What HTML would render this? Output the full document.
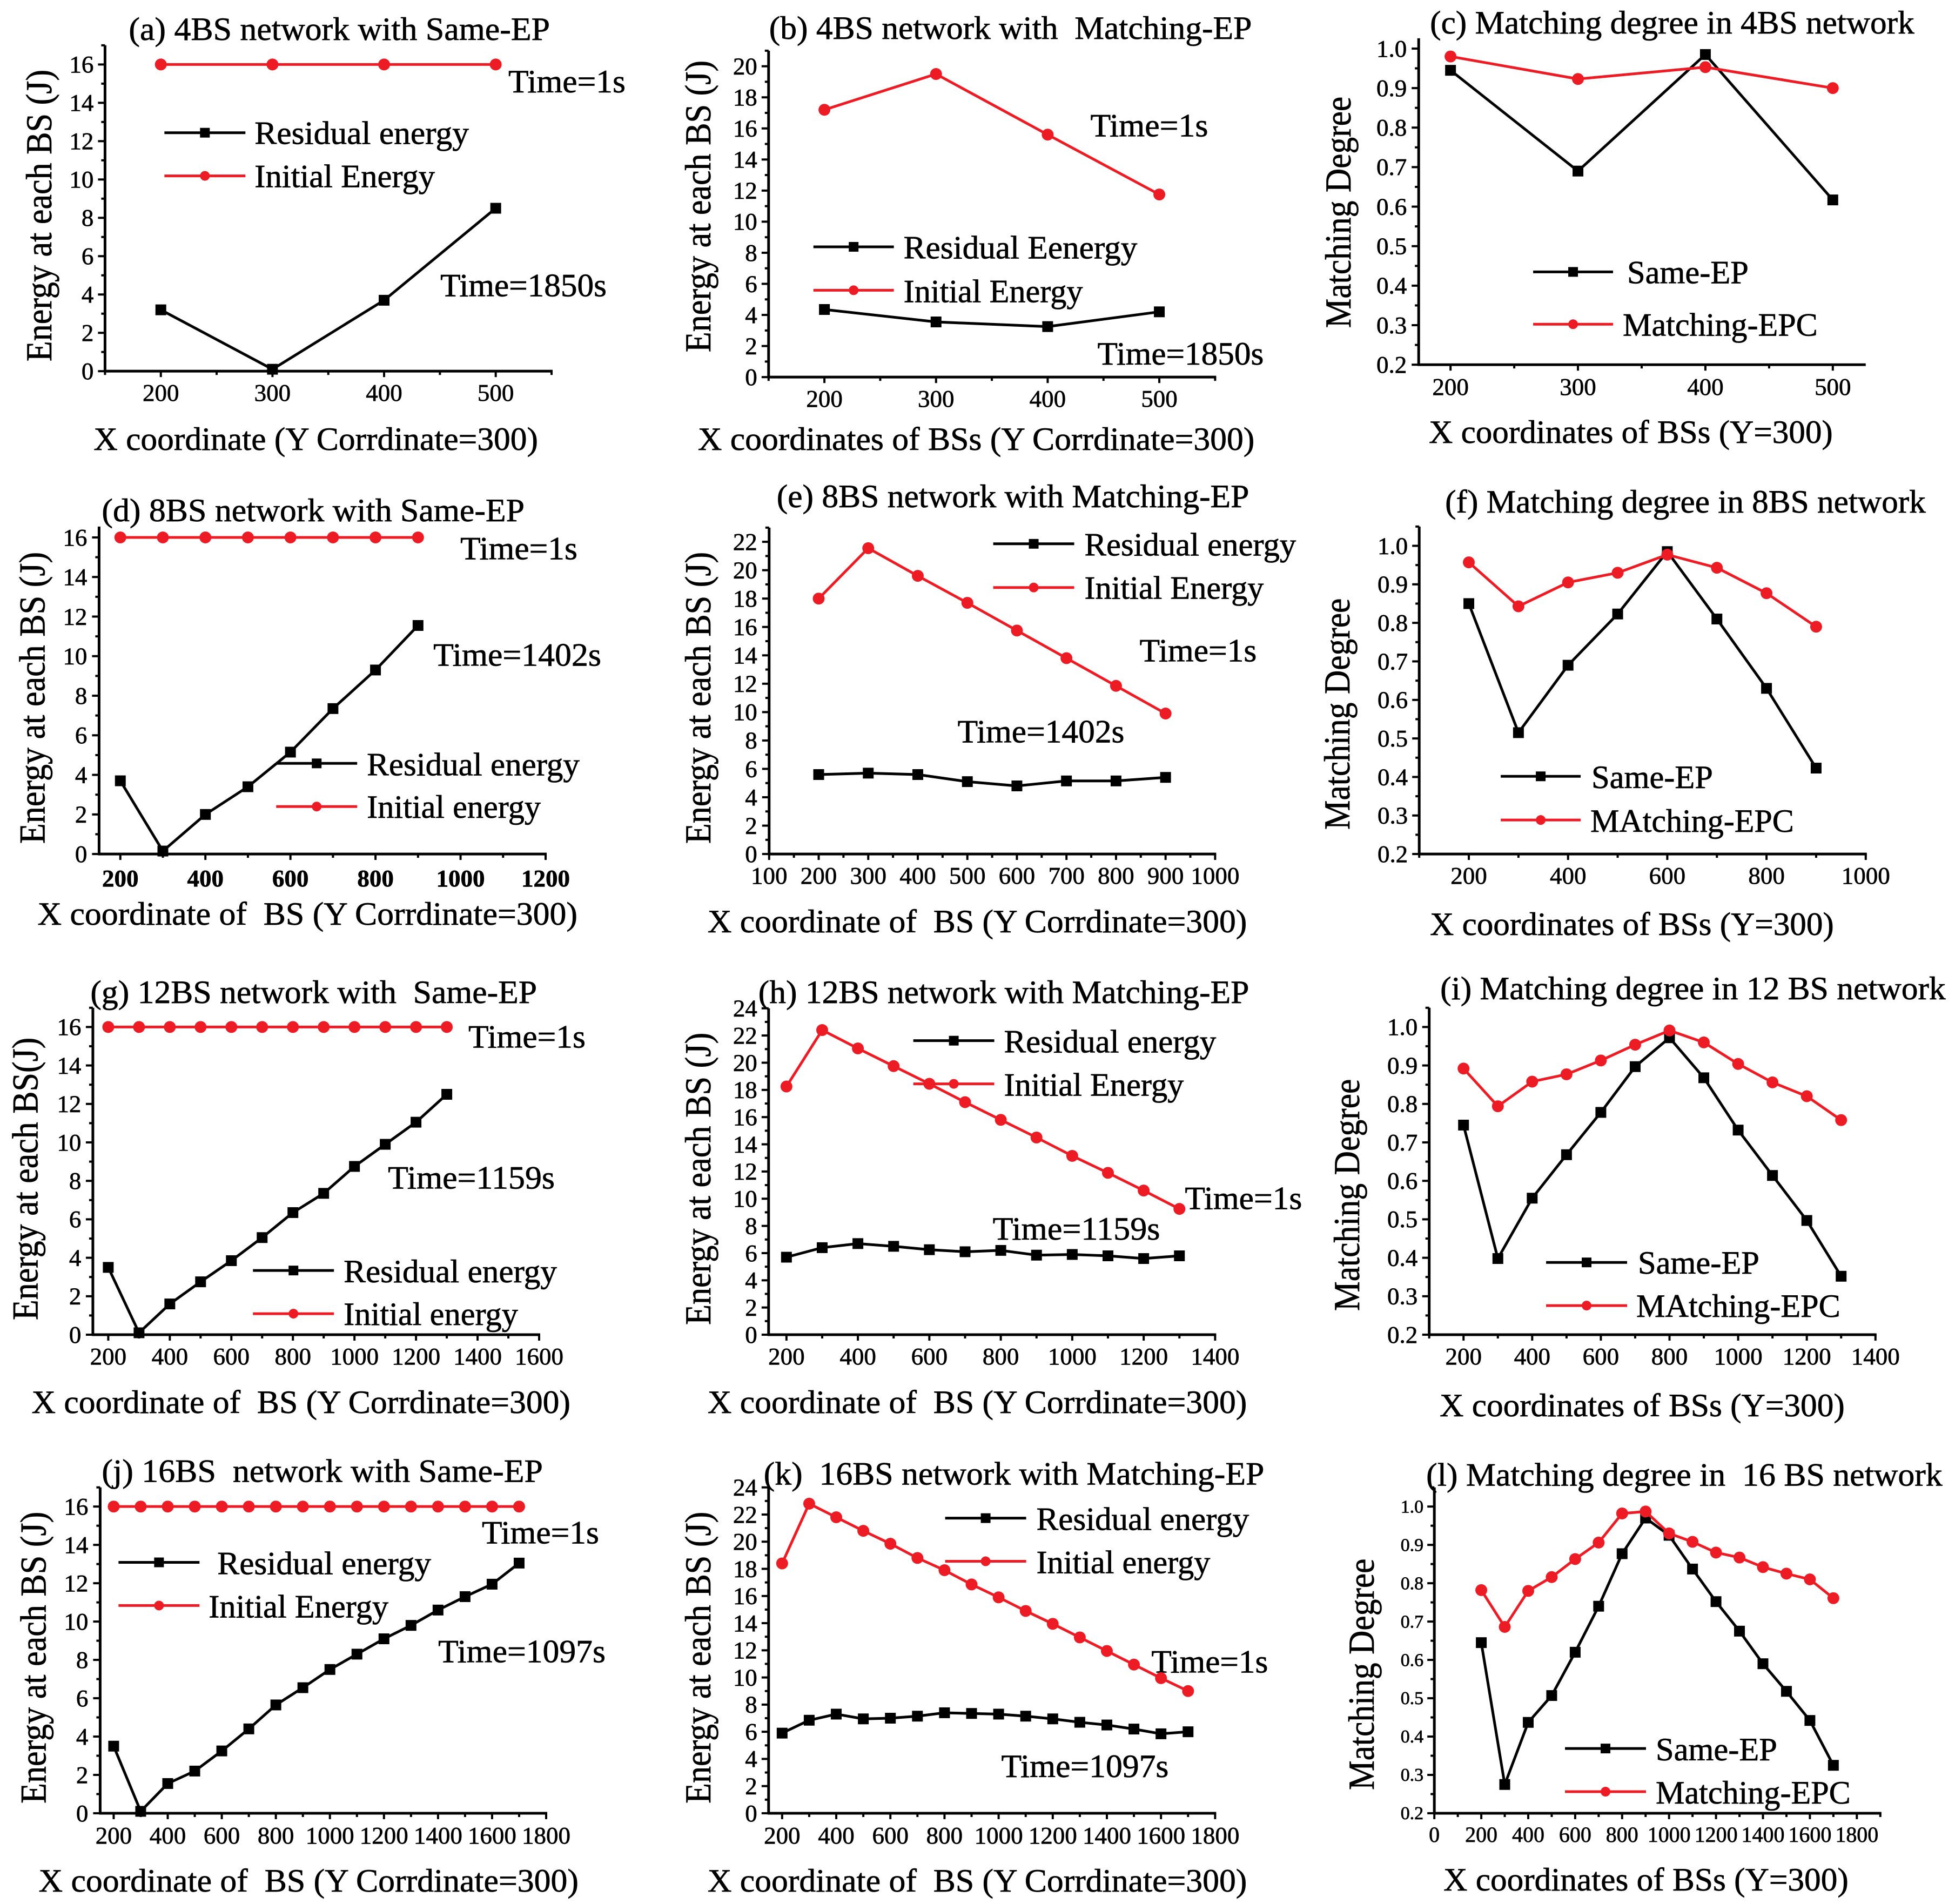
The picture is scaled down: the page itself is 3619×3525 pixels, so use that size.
<!DOCTYPE html>
<html lang="en">
<head>
<meta charset="utf-8">
<title>Energy and matching degree charts</title>
<style>
html,body{margin:0;padding:0;background:#fff;}
svg{display:block;}
text{font-family:"Liberation Serif",serif;fill:#000;white-space:pre;stroke:#000;stroke-width:0.7px;}
.t{font-size:60px;}
.yt{font-size:68px;}
</style>
</head>
<body>
<svg id="figure" xmlns="http://www.w3.org/2000/svg" width="3619" height="3525" viewBox="0 0 3619 3525">
<rect x="0" y="0" width="3619" height="3525" fill="#fff"/>
<g transform="translate(-3.5,-1) scale(0.9995,0.9988)">

<g id="panel-a">
<text class="t" x="242" y="75" textLength="780" lengthAdjust="spacingAndGlyphs">(a) 4BS network with Same-EP</text>
<text class="t" x="177" y="835" textLength="823" lengthAdjust="spacingAndGlyphs">X coordinate (Y Corrdinate=300)</text>
<text class="yt" transform="translate(98.5,671) rotate(-90)" textLength="541" lengthAdjust="spacingAndGlyphs">Energy at each BS (J)</text>
<line x1="308" x2="458" y1="247" y2="247" stroke="#000" stroke-width="5"/>
<rect x="374" y="238" width="18" height="18" fill="#000"/>
<text class="t" x="475" y="268" textLength="397" lengthAdjust="spacingAndGlyphs">Residual energy</text>
<line x1="308" x2="458" y1="327" y2="327" stroke="#ed1c24" stroke-width="5"/>
<circle cx="383" cy="327" r="9" fill="#ed1c24"/>
<text class="t" x="475" y="348" textLength="334" lengthAdjust="spacingAndGlyphs">Initial Energy</text>
<text class="t" x="945" y="172" textLength="217" lengthAdjust="spacingAndGlyphs">Time=1s</text>
<text class="t" x="819" y="550" textLength="308" lengthAdjust="spacingAndGlyphs">Time=1850s</text>
</g>

<g id="panel-b">
<text class="t" x="1428" y="73" textLength="894" lengthAdjust="spacingAndGlyphs">(b) 4BS network with  Matching-EP</text>
<text class="t" x="1296" y="835" textLength="1031" lengthAdjust="spacingAndGlyphs">X coordinates of BSs (Y Corrdinate=300)</text>
<text class="yt" transform="translate(1319,654) rotate(-90)" textLength="541" lengthAdjust="spacingAndGlyphs">Energy at each BS (J)</text>
<line x1="1510" x2="1659" y1="458.5" y2="458.5" stroke="#000" stroke-width="5"/>
<rect x="1575.5" y="449.5" width="18" height="18" fill="#000"/>
<text class="t" x="1677" y="480" textLength="433" lengthAdjust="spacingAndGlyphs">Residual Eenergy</text>
<line x1="1510" x2="1659" y1="539" y2="539" stroke="#ed1c24" stroke-width="5"/>
<circle cx="1584.5" cy="539" r="9" fill="#ed1c24"/>
<text class="t" x="1677" y="561" textLength="332" lengthAdjust="spacingAndGlyphs">Initial Energy</text>
<text class="t" x="2023" y="254" textLength="218" lengthAdjust="spacingAndGlyphs">Time=1s</text>
<text class="t" x="2036" y="677" textLength="308" lengthAdjust="spacingAndGlyphs">Time=1850s</text>
</g>

<g id="panel-c">
<text class="t" x="2652" y="63" textLength="897" lengthAdjust="spacingAndGlyphs">(c) Matching degree in 4BS network</text>
<text class="t" x="2650" y="822" textLength="748" lengthAdjust="spacingAndGlyphs">X coordinates of BSs (Y=300)</text>
<text class="yt" transform="translate(2505,609) rotate(-90)" textLength="429" lengthAdjust="spacingAndGlyphs">Matching Degree</text>
<line x1="2843" x2="2991" y1="505" y2="505" stroke="#000" stroke-width="5"/>
<rect x="2908" y="496" width="18" height="18" fill="#000"/>
<text class="t" x="3017" y="526" textLength="225" lengthAdjust="spacingAndGlyphs">Same-EP</text>
<line x1="2843" x2="2991" y1="602" y2="602" stroke="#ed1c24" stroke-width="5"/>
<circle cx="2917" cy="602" r="9" fill="#ed1c24"/>
<text class="t" x="3009" y="623" textLength="361" lengthAdjust="spacingAndGlyphs">Matching-EPC</text>
</g>

<g id="panel-d">
<text class="t" x="192" y="967" textLength="783" lengthAdjust="spacingAndGlyphs">(d) 8BS network with Same-EP</text>
<text class="t" x="73" y="1715" textLength="1000" lengthAdjust="spacingAndGlyphs">X coordinate of  BS (Y Corrdinate=300)</text>
<text class="yt" transform="translate(86,1565) rotate(-90)" textLength="541" lengthAdjust="spacingAndGlyphs">Energy at each BS (J)</text>
<line x1="515" x2="665" y1="1416" y2="1416" stroke="#000" stroke-width="5"/>
<rect x="581" y="1407" width="18" height="18" fill="#000"/>
<text class="t" x="683" y="1438" textLength="394" lengthAdjust="spacingAndGlyphs">Residual energy</text>
<line x1="515" x2="665" y1="1496" y2="1496" stroke="#ed1c24" stroke-width="5"/>
<circle cx="590" cy="1496" r="9" fill="#ed1c24"/>
<text class="t" x="683" y="1517" textLength="322" lengthAdjust="spacingAndGlyphs">Initial energy</text>
<text class="t" x="856" y="1038" textLength="217" lengthAdjust="spacingAndGlyphs">Time=1s</text>
<text class="t" x="806" y="1235" textLength="311" lengthAdjust="spacingAndGlyphs">Time=1402s</text>
</g>

<g id="panel-e">
<text class="t" x="1442" y="941" textLength="875" lengthAdjust="spacingAndGlyphs">(e) 8BS network with Matching-EP</text>
<text class="t" x="1314" y="1729" textLength="999" lengthAdjust="spacingAndGlyphs">X coordinate of  BS (Y Corrdinate=300)</text>
<text class="yt" transform="translate(1319,1565) rotate(-90)" textLength="541" lengthAdjust="spacingAndGlyphs">Energy at each BS (J)</text>
<line x1="1843" x2="1993" y1="1009" y2="1009" stroke="#000" stroke-width="5"/>
<rect x="1909" y="1000" width="18" height="18" fill="#000"/>
<text class="t" x="2012" y="1031" textLength="392" lengthAdjust="spacingAndGlyphs">Residual energy</text>
<line x1="1843" x2="1993" y1="1090" y2="1090" stroke="#ed1c24" stroke-width="5"/>
<circle cx="1918" cy="1090" r="9" fill="#ed1c24"/>
<text class="t" x="2012" y="1111" textLength="332" lengthAdjust="spacingAndGlyphs">Initial Energy</text>
<text class="t" x="2114" y="1227" textLength="217" lengthAdjust="spacingAndGlyphs">Time=1s</text>
<text class="t" x="1777" y="1377" textLength="309" lengthAdjust="spacingAndGlyphs">Time=1402s</text>
</g>

<g id="panel-f">
<text class="t" x="2680" y="951" textLength="890" lengthAdjust="spacingAndGlyphs">(f) Matching degree in 8BS network</text>
<text class="t" x="2652" y="1734" textLength="748" lengthAdjust="spacingAndGlyphs">X coordinates of BSs (Y=300)</text>
<text class="yt" transform="translate(2503,1539) rotate(-90)" textLength="429" lengthAdjust="spacingAndGlyphs">Matching Degree</text>
<line x1="2783" x2="2931" y1="1440" y2="1440" stroke="#000" stroke-width="5"/>
<rect x="2848" y="1431" width="18" height="18" fill="#000"/>
<text class="t" x="2951" y="1462" textLength="225" lengthAdjust="spacingAndGlyphs">Same-EP</text>
<line x1="2783" x2="2931" y1="1521" y2="1521" stroke="#ed1c24" stroke-width="5"/>
<circle cx="2857" cy="1521" r="9" fill="#ed1c24"/>
<text class="t" x="2949" y="1543" textLength="377" lengthAdjust="spacingAndGlyphs">MAtching-EPC</text>
</g>

<g id="panel-g">
<text class="t" x="171" y="1860" textLength="827" lengthAdjust="spacingAndGlyphs">(g) 12BS network with  Same-EP</text>
<text class="t" x="62" y="2620" textLength="998" lengthAdjust="spacingAndGlyphs">X coordinate of  BS (Y Corrdinate=300)</text>
<text class="yt" transform="translate(73,2448) rotate(-90)" textLength="524" lengthAdjust="spacingAndGlyphs">Energy at each BS(J)</text>
<line x1="472" x2="622" y1="2356" y2="2356" stroke="#000" stroke-width="5"/>
<rect x="538" y="2347" width="18" height="18" fill="#000"/>
<text class="t" x="640" y="2378" textLength="395" lengthAdjust="spacingAndGlyphs">Residual energy</text>
<line x1="472" x2="622" y1="2436" y2="2436" stroke="#ed1c24" stroke-width="5"/>
<circle cx="547" cy="2436" r="9" fill="#ed1c24"/>
<text class="t" x="640" y="2457" textLength="323" lengthAdjust="spacingAndGlyphs">Initial energy</text>
<text class="t" x="871" y="1943" textLength="217" lengthAdjust="spacingAndGlyphs">Time=1s</text>
<text class="t" x="722" y="2204" textLength="309" lengthAdjust="spacingAndGlyphs">Time=1159s</text>
</g>

<g id="panel-h">
<text class="t" x="1408" y="1860" textLength="909" lengthAdjust="spacingAndGlyphs">(h) 12BS network with Matching-EP</text>
<text class="t" x="1314" y="2620" textLength="999" lengthAdjust="spacingAndGlyphs">X coordinate of  BS (Y Corrdinate=300)</text>
<text class="yt" transform="translate(1319,2457) rotate(-90)" textLength="542" lengthAdjust="spacingAndGlyphs">Energy at each BS (J)</text>
<line x1="1695" x2="1845" y1="1930" y2="1930" stroke="#000" stroke-width="5"/>
<rect x="1761" y="1921" width="18" height="18" fill="#000"/>
<text class="t" x="1863" y="1952" textLength="393" lengthAdjust="spacingAndGlyphs">Residual energy</text>
<line x1="1695" x2="1845" y1="2010" y2="2010" stroke="#ed1c24" stroke-width="5"/>
<circle cx="1770" cy="2010" r="9" fill="#ed1c24"/>
<text class="t" x="1863" y="2032" textLength="333" lengthAdjust="spacingAndGlyphs">Initial Energy</text>
<text class="t" x="2198" y="2242" textLength="217" lengthAdjust="spacingAndGlyphs">Time=1s</text>
<text class="t" x="1842" y="2299" textLength="310" lengthAdjust="spacingAndGlyphs">Time=1159s</text>
</g>

<g id="panel-i">
<text class="t" x="2671" y="1853" textLength="936" lengthAdjust="spacingAndGlyphs">(i) Matching degree in 12 BS network</text>
<text class="t" x="2670" y="2626" textLength="750" lengthAdjust="spacingAndGlyphs">X coordinates of BSs (Y=300)</text>
<text class="yt" transform="translate(2521,2431) rotate(-90)" textLength="430" lengthAdjust="spacingAndGlyphs">Matching Degree</text>
<line x1="2867" x2="3017" y1="2341" y2="2341" stroke="#000" stroke-width="5"/>
<rect x="2933" y="2332" width="18" height="18" fill="#000"/>
<text class="t" x="3037" y="2362" textLength="225" lengthAdjust="spacingAndGlyphs">Same-EP</text>
<line x1="2867" x2="3017" y1="2421" y2="2421" stroke="#ed1c24" stroke-width="5"/>
<circle cx="2942" cy="2421" r="9" fill="#ed1c24"/>
<text class="t" x="3034" y="2442" textLength="378" lengthAdjust="spacingAndGlyphs">MAtching-EPC</text>
</g>

<g id="panel-j">
<text class="t" x="192" y="2748" textLength="817" lengthAdjust="spacingAndGlyphs">(j) 16BS  network with Same-EP</text>
<text class="t" x="75" y="3507" textLength="1000" lengthAdjust="spacingAndGlyphs">X coordinate of  BS (Y Corrdinate=300)</text>
<text class="yt" transform="translate(88,3344) rotate(-90)" textLength="541" lengthAdjust="spacingAndGlyphs">Energy at each BS (J)</text>
<line x1="223" x2="373" y1="2897" y2="2897" stroke="#000" stroke-width="5"/>
<rect x="289" y="2888" width="18" height="18" fill="#000"/>
<text class="t" x="406" y="2919" textLength="396" lengthAdjust="spacingAndGlyphs">Residual energy</text>
<line x1="223" x2="373" y1="2977" y2="2977" stroke="#ed1c24" stroke-width="5"/>
<circle cx="298" cy="2977" r="9" fill="#ed1c24"/>
<text class="t" x="390" y="2999" textLength="333" lengthAdjust="spacingAndGlyphs">Initial Energy</text>
<text class="t" x="896" y="2862" textLength="217" lengthAdjust="spacingAndGlyphs">Time=1s</text>
<text class="t" x="815" y="3082" textLength="310" lengthAdjust="spacingAndGlyphs">Time=1097s</text>
</g>

<g id="panel-k">
<text class="t" x="1418" y="2753" textLength="927" lengthAdjust="spacingAndGlyphs">(k)  16BS network with Matching-EP</text>
<text class="t" x="1314" y="3507" textLength="999" lengthAdjust="spacingAndGlyphs">X coordinate of  BS (Y Corrdinate=300)</text>
<text class="yt" transform="translate(1319,3344) rotate(-90)" textLength="541" lengthAdjust="spacingAndGlyphs">Energy at each BS (J)</text>
<line x1="1754" x2="1904" y1="2815" y2="2815" stroke="#000" stroke-width="5"/>
<rect x="1820" y="2806" width="18" height="18" fill="#000"/>
<text class="t" x="1923" y="2837" textLength="394" lengthAdjust="spacingAndGlyphs">Residual energy</text>
<line x1="1754" x2="1904" y1="2895" y2="2895" stroke="#ed1c24" stroke-width="5"/>
<circle cx="1829" cy="2895" r="9" fill="#ed1c24"/>
<text class="t" x="1923" y="2917" textLength="322" lengthAdjust="spacingAndGlyphs">Initial energy</text>
<text class="t" x="2136" y="3101" textLength="216" lengthAdjust="spacingAndGlyphs">Time=1s</text>
<text class="t" x="1858" y="3295" textLength="310" lengthAdjust="spacingAndGlyphs">Time=1097s</text>
</g>

<g id="panel-l">
<text class="t" x="2645" y="2755" textLength="956" lengthAdjust="spacingAndGlyphs">(l) Matching degree in  16 BS network</text>
<text class="t" x="2677" y="3505" textLength="750" lengthAdjust="spacingAndGlyphs">X coordinates of BSs (Y=300)</text>
<text class="yt" transform="translate(2548,3319) rotate(-90)" textLength="429" lengthAdjust="spacingAndGlyphs">Matching Degree</text>
<line x1="2902" x2="3052" y1="3242" y2="3242" stroke="#000" stroke-width="5"/>
<rect x="2968" y="3233" width="18" height="18" fill="#000"/>
<text class="t" x="3070" y="3264" textLength="225" lengthAdjust="spacingAndGlyphs">Same-EP</text>
<line x1="2902" x2="3052" y1="3322" y2="3322" stroke="#ed1c24" stroke-width="5"/>
<circle cx="2977" cy="3322" r="9" fill="#ed1c24"/>
<text class="t" x="3070" y="3344" textLength="361" lengthAdjust="spacingAndGlyphs">Matching-EPC</text>
</g>
</g>
</svg>

<script>
// Categories (BS x coordinates)
const bsX4 = [200, 300, 400, 500];
const bsX8 = [200, 300, 400, 500, 600, 700, 800, 900];
const bsX12 = [200, 300, 400, 500, 600, 700, 800, 900, 1000, 1100, 1200, 1300];
const bsX16 = [200, 300, 400, 500, 600, 700, 800, 900, 1000, 1100, 1200, 1300, 1400, 1500, 1600, 1700];

// Series values
const residualA = [3.2, 0.1, 3.7, 8.5];
const initialA = [16, 16, 16, 16];
const residualB = [4.35, 3.55, 3.25, 4.2];
const initialB = [17.2, 19.5, 15.6, 11.75];
const sameC = [0.945, 0.69, 0.985, 0.617];
const matchingC = [0.98, 0.923, 0.953, 0.90];

const residualD = [3.7, 0.15, 2.0, 3.4, 5.15, 7.35, 9.3, 11.55];
const initialD = [16, 16, 16, 16, 16, 16, 16, 16];
const residualE = [5.6, 5.7, 5.6, 5.1, 4.8, 5.15, 5.15, 5.4];
const initialE = [18, 21.55, 19.6, 17.7, 15.75, 13.8, 11.85, 9.9];
const sameF = [0.85, 0.515, 0.69, 0.823, 0.985, 0.81, 0.63, 0.423];
const matchingF = [0.957, 0.843, 0.905, 0.93, 0.977, 0.943, 0.877, 0.79];

const residualG = [3.5, 0.1, 1.6, 2.75, 3.85, 5.05, 6.35, 7.35, 8.75, 9.9, 11.05, 12.5];
const initialG = [16, 16, 16, 16, 16, 16, 16, 16, 16, 16, 16, 16];
const residualH = [5.7, 6.4, 6.7, 6.5, 6.25, 6.1, 6.2, 5.85, 5.9, 5.8, 5.6, 5.8];
const initialH = [18.25, 22.4, 21.05, 19.75, 18.45, 17.1, 15.8, 14.5, 13.15, 11.9, 10.6, 9.25];
const sameI = [0.745, 0.398, 0.555, 0.668, 0.778, 0.897, 0.972, 0.868, 0.732, 0.614, 0.497, 0.352];
const matchingI = [0.892, 0.794, 0.858, 0.877, 0.913, 0.954, 0.991, 0.96, 0.904, 0.856, 0.82, 0.758];

const residualJ = [3.5, 0.1, 1.55, 2.2, 3.25, 4.4, 5.65, 6.55, 7.5, 8.3, 9.1, 9.8, 10.6, 11.3, 11.95, 13.05];
const initialJ = [16, 16, 16, 16, 16, 16, 16, 16, 16, 16, 16, 16, 16, 16, 16, 16];
const residualK = [5.9, 6.85, 7.3, 6.95, 7.0, 7.15, 7.4, 7.35, 7.3, 7.15, 6.95, 6.7, 6.5, 6.2, 5.85, 6.0];
const initialK = [18.4, 22.8, 21.8, 20.8, 19.85, 18.8, 17.9, 16.85, 15.9, 14.9, 13.95, 12.95, 11.95, 10.95, 9.95, 9.0];
const sameL = [0.645, 0.275, 0.437, 0.507, 0.62, 0.74, 0.877, 0.97, 0.925, 0.837, 0.752, 0.675, 0.59, 0.518, 0.442, 0.325];
const matchingL = [0.782, 0.686, 0.78, 0.816, 0.863, 0.906, 0.982, 0.987, 0.93, 0.908, 0.88, 0.867, 0.842, 0.825, 0.81, 0.761];

// Tick labels
const xTicks4 = [200, 300, 400, 500];
const xTicks1000 = [200, 400, 600, 800, 1000];
const xTicks1000Every100 = [100, 200, 300, 400, 500, 600, 700, 800, 900, 1000];
const xTicks1200 = [200, 400, 600, 800, 1000, 1200];
const xTicks1400 = [200, 400, 600, 800, 1000, 1200, 1400];
const xTicks1600 = [200, 400, 600, 800, 1000, 1200, 1400, 1600];
const xTicks1800 = [200, 400, 600, 800, 1000, 1200, 1400, 1600, 1800];
const xTicks1800Zero = [0, 200, 400, 600, 800, 1000, 1200, 1400, 1600, 1800];
const yTicks16 = [0, 2, 4, 6, 8, 10, 12, 14, 16];
const yTicks20 = [0, 2, 4, 6, 8, 10, 12, 14, 16, 18, 20];
const yTicks22 = [0, 2, 4, 6, 8, 10, 12, 14, 16, 18, 20, 22];
const yTicks24 = [0, 2, 4, 6, 8, 10, 12, 14, 16, 18, 20, 22, 24];
const yTicksMatching = [0.2, 0.3, 0.4, 0.5, 0.6, 0.7, 0.8, 0.9, 1.0];

// Layout of each panel: axis domains and where they land on the page
const panels = [
  {id:'panel-a', xs:bsX4, s1:residualA, s2:initialA, n1:'residual-energy', n2:'initial-energy', xt:xTicks4, yt:yTicks16, dec:0,
   xd:[150,550], xr:[198,1025], yd:[0,17], yr:[689,85], xb:744, yr0:177},
  {id:'panel-b', xs:bsX4, s1:residualB, s2:initialB, n1:'residual-energy', n2:'initial-energy', xt:xTicks4, yt:yTicks20, dec:0,
   xd:[150,550], xr:[1427,2254], yd:[0,21], yr:[700,95], xb:755, yr0:1406},
  {id:'panel-c', xs:bsX4, s1:sameC, s2:matchingC, n1:'same-ep', n2:'matching-epc', xt:xTicks4, yt:yTicksMatching, dec:1,
   xd:[175,525], xr:[2631,3457], yd:[0.2,1.026], yr:[677,72], xb:733, yr0:2609},
  {id:'panel-d', xs:bsX8, s1:residualD, s2:initialD, n1:'residual-energy', n2:'initial-energy', xt:xTicks1200, yt:yTicks16, dec:0,
   xd:[150,1200], xr:[187,1014], yd:[0,16.55], yr:[1584,977], xb:1644, yr0:165, bold:true},
  {id:'panel-e', xs:bsX8, s1:residualE, s2:initialE, n1:'residual-energy', n2:'initial-energy', xt:xTicks1000Every100, yt:yTicks22, dec:0,
   xd:[100,1000], xr:[1428,2254], yd:[0,23], yr:[1584,979], xb:1639, yr0:1406},
  {id:'panel-f', xs:bsX8, s1:sameF, s2:matchingF, n1:'same-ep', n2:'matching-epc', xt:xTicks1000, yt:yTicksMatching, dec:1,
   xd:[100,1000], xr:[2632,3459], yd:[0.2,1.05], yr:[1584,977], xb:1639, yr0:2611},
  {id:'panel-g', xs:bsX12, s1:residualG, s2:initialG, n1:'residual-energy', n2:'initial-energy', xt:xTicks1600, yt:yTicks16, dec:0,
   xd:[150,1600], xr:[175.5,1002], yd:[0,17], yr:[2475,1869], xb:2530, yr0:154},
  {id:'panel-h', xs:bsX12, s1:residualH, s2:initialH, n1:'residual-energy', n2:'initial-energy', xt:xTicks1400, yt:yTicks24, dec:0,
   xd:[150,1400], xr:[1427,2254], yd:[0,24], yr:[2475,1870], xb:2530, yr0:1406},
  {id:'panel-i', xs:bsX12, s1:sameI, s2:matchingI, n1:'same-ep', n2:'matching-epc', xt:xTicks1400, yt:yTicksMatching, dec:1,
   xd:[100,1400], xr:[2650.5,3477], yd:[0.2,1.05], yr:[2475,1869], xb:2530, yr0:2629},
  {id:'panel-j', xs:bsX16, s1:residualJ, s2:initialJ, n1:'residual-energy', n2:'initial-energy', xt:xTicks1800, yt:yTicks16, dec:0,
   xd:[150,1800], xr:[189,1015], yd:[0,17], yr:[3362,2758], xb:3418, yr0:167},
  {id:'panel-k', xs:bsX16, s1:residualK, s2:initialK, n1:'residual-energy', n2:'initial-energy', xt:xTicks1800, yt:yTicks24, dec:0,
   xd:[150,1800], xr:[1427,2254], yd:[0,24], yr:[3362,2758], xb:3418, yr0:1406},
  {id:'panel-l', xs:bsX16, s1:sameL, s2:matchingL, n1:'same-ep', n2:'matching-epc', xt:xTicks1800Zero, yt:yTicksMatching, dec:1,
   xd:[0,1900], xr:[2660,3486], yd:[0.2,1.05], yr:[3362,2758], xb:3415, yr0:2640, xfs:40, yfs:34}
];

const NS = 'http://www.w3.org/2000/svg';
const BLACK = '#000';
const RED = '#ed1c24';

function mk(tag, parent, attrs) {
  const el = document.createElementNS(NS, tag);
  for (const k in attrs) el.setAttribute(k, attrs[k]);
  parent.appendChild(el);
  return el;
}

function midTicks(majors, lo, hi) {
  const step = majors[1] - majors[0];
  const half = step / 2;
  const out = [];
  for (let v = majors[0] - half; v >= lo - 1e-9; v -= step) out.push(v);
  for (let v = majors[0] + half; v <= hi + 1e-9; v += step) out.push(v);
  return out;
}

function drawSeries(g, cfg, X, Y, values, color, marker, name) {
  const pts = cfg.xs.map((x, i) => X(x) + ',' + Y(values[i])).join(' ');
  const line = mk('polyline', g, {points: pts, fill: 'none', stroke: color, 'stroke-width': 5, 'stroke-linejoin': 'round'});
  
  
  cfg.xs.forEach((x, i) => {
    let m;
    if (marker === 'square') {
      m = mk('rect', g, {x: X(x) - 10, y: Y(values[i]) - 10, width: 20, height: 20, fill: color});
    } else {
      m = mk('circle', g, {cx: X(x), cy: Y(values[i]), r: 11, fill: color});
    }
    
    
  });
}

panels.forEach(cfg => {
  const g = document.getElementById(cfg.id);
  const X = v => cfg.xr[0] + (v - cfg.xd[0]) * (cfg.xr[1] - cfg.xr[0]) / (cfg.xd[1] - cfg.xd[0]);
  const Y = v => cfg.yr[0] + (v - cfg.yd[0]) * (cfg.yr[1] - cfg.yr[0]) / (cfg.yd[1] - cfg.yd[0]);
  const xAxisY = Y(cfg.yd[0]);
  const yAxisX = X(cfg.xd[0]);
  const xfs = cfg.xfs || 45;
  const yfs = cfg.yfs || 45;

  const xAxis = mk('line', g, {x1: yAxisX - 2, x2: X(cfg.xd[1]) + 2, y1: xAxisY, y2: xAxisY, stroke: BLACK, 'stroke-width': 5});
  
  
  const yAxis = mk('line', g, {x1: yAxisX, x2: yAxisX, y1: xAxisY + 2, y2: Y(cfg.yd[1]), stroke: BLACK, 'stroke-width': 5});
  
  

  cfg.xt.forEach(v => {
    const tick = mk('line', g, {x1: X(v), x2: X(v), y1: xAxisY, y2: xAxisY + 11, stroke: BLACK, 'stroke-width': 4});
    
    
    const label = mk('text', g, {x: X(v), y: cfg.xb, 'text-anchor': 'middle', 'font-size': xfs});
    if (cfg.bold) label.setAttribute('font-weight', 'bold');
    
    
    label.textContent = String(v);
  });
  midTicks(cfg.xt, cfg.xd[0], cfg.xd[1]).forEach(v => {
    const tick = mk('line', g, {x1: X(v), x2: X(v), y1: xAxisY, y2: xAxisY + 7, stroke: BLACK, 'stroke-width': 4});
    
    
  });

  cfg.yt.forEach(v => {
    const tick = mk('line', g, {x1: yAxisX - 13, x2: yAxisX, y1: Y(v), y2: Y(v), stroke: BLACK, 'stroke-width': 4});
    
    
    const label = mk('text', g, {x: cfg.yr0, y: Y(v) + yfs * 0.33, 'text-anchor': 'end', 'font-size': yfs});
    
    
    label.textContent = cfg.dec ? v.toFixed(cfg.dec) : String(v);
  });
  midTicks(cfg.yt, cfg.yd[0], cfg.yd[1]).forEach(v => {
    const tick = mk('line', g, {x1: yAxisX - 7, x2: yAxisX, y1: Y(v), y2: Y(v), stroke: BLACK, 'stroke-width': 4});
    
    
  });

  drawSeries(g, cfg, X, Y, cfg.s1, BLACK, 'square', cfg.n1);
  drawSeries(g, cfg, X, Y, cfg.s2, RED, 'circle', cfg.n2);
});
</script>
</body>
</html>
